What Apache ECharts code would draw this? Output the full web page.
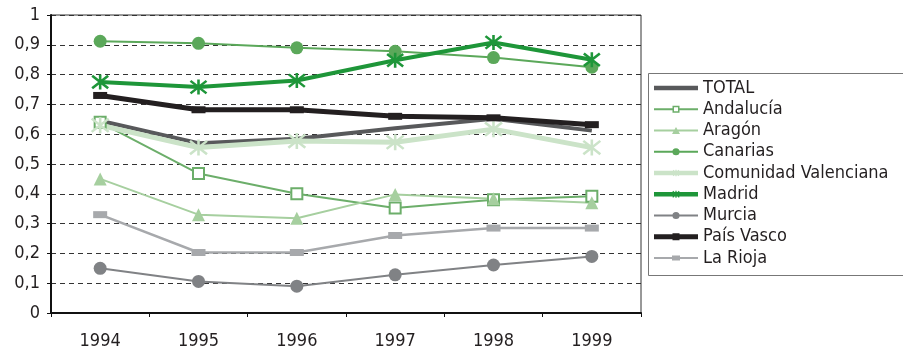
<!DOCTYPE html>
<html>
<head>
<meta charset="utf-8">
<script src="https://cdn.jsdelivr.net/npm/echarts@6/dist/echarts.min.js"></script>
<style>
  html, body { margin: 0; padding: 0; background: #fff; }
  #chart { width: 903px; height: 351px; }
</style>
</head>
<body>
<div id="chart"></div>
<script>
// Years on the horizontal axis
const years = ['1994', '1995', '1996', '1997', '1998', '1999'];

// Ratio per region and year
const total       = [0.645, 0.570, 0.585, 0.620, 0.652, 0.612];
const andalucia   = [0.640, 0.468, 0.400, 0.352, 0.380, 0.392];
const aragon      = [0.450, 0.330, 0.318, 0.398, 0.383, 0.370];
const canarias    = [0.912, 0.905, 0.890, 0.878, 0.857, 0.825];
const valenciana  = [0.630, 0.555, 0.577, 0.573, 0.617, 0.555];
const madrid      = [0.775, 0.758, 0.780, 0.848, 0.908, 0.850];
const murcia      = [0.150, 0.106, 0.090, 0.128, 0.161, 0.190];
const paisVasco   = [0.730, 0.682, 0.682, 0.660, 0.655, 0.632];
const laRioja     = [0.330, 0.203, 0.203, 0.260, 0.285, 0.285];

const seriesNames = ['TOTAL', 'Andalucía', 'Aragón', 'Canarias', 'Comunidad Valenciana',
                     'Madrid', 'Murcia', 'País Vasco', 'La Rioja'];

// Excel-style asterisk marker: an X crossed by a vertical bar
const ASTERISK = 'path://M0,0L10,10M10,0L0,10M5,-1L5,11';

const FONT = "'Liberation Sans Narrow', 'DejaVu Sans Condensed', 'Liberation Sans', sans-serif";
const TEXT = '#231f20';

// ---- small path helpers for the legend keys (44 px wide, centred on y = 0) ----
const W = 44, C = 22;
const rect = (x, y, w, h) => `M${x},${y}h${w}v${h}h${-w}Z`;
const rectRev = (x, y, w, h) => `M${x},${y}v${h}h${w}v${-h}Z`;
const bar = t => rect(0, -t / 2, W, t);
const circle = r => `M${C - r},0A${r},${r},0,1,1,${C + r},0A${r},${r},0,1,1,${C - r},0Z`;
const triangle = (w, h) => `M${C - w / 2},${h / 2}L${C},${-h / 2}L${C + w / 2},${h / 2}Z`;
const star = s => rect(C - 0.6, -s, 1.2, 2 * s) +
  `M${C + s},${-s + 0.8}L${C - s + 0.8},${s}L${C - s},${s - 0.8}L${C + s - 0.8},${-s}Z` +
  `M${C - s},${-s + 0.8}L${C - s + 0.8},${-s}L${C + s},${s - 0.8}L${C + s - 0.8},${s}Z`;
const hollowSquare = s => rect(0, -1, C - s / 2, 2) + rect(C + s / 2, -1, C - s / 2, 2) +
  rect(C - s / 2, -s / 2, s, s) + rectRev(C - s / 2 + 1.5, -s / 2 + 1.5, s - 3, s - 3);

const legendKeys = {
  'TOTAL':                bar(4.5),
  'Andalucía':            hollowSquare(7),
  'Aragón':               bar(2) + triangle(8, 7),
  'Canarias':             bar(2) + circle(3.6),
  'Comunidad Valenciana': bar(4.5) + star(3.2),
  'Madrid':               bar(4.5) + star(3.6),
  'Murcia':               bar(2) + circle(3.6),
  'País Vasco':           bar(5) + rect(C - 3.5, -3.5, 7, 7),
  'La Rioja':             bar(2) + rect(C - 4, -2.5, 8, 5)
};

function line(name, data, color, width, symbol, size, extra) {
  return Object.assign({
    name, type: 'line', data,
    color,
    lineStyle: { color, width },
    symbol, symbolSize: size,
    showSymbol: symbol !== 'none',
    itemStyle: { color, borderWidth: 0 },
    emphasis: { disabled: true },
    animation: false
  }, extra || {});
}

const series = [
  line('TOTAL', total, '#58595b', 4, 'none', 0),
  line('Andalucía', andalucia, '#6cae6a', 2, 'rect', 11,
       { itemStyle: { color: '#fff', borderColor: '#6cae6a', borderWidth: 2 } }),
  line('Aragón', aragon, '#a6cf9f', 2, 'triangle', 13),
  line('Canarias', canarias, '#5ba85a', 2, 'circle', 13),
  line('Comunidad Valenciana', valenciana, '#cbe3c8', 5, ASTERISK, [17, 16],
       { itemStyle: { color: '#cbe3c8', borderColor: '#cbe3c8', borderWidth: 2.5 } }),
  line('Madrid', madrid, '#1e9639', 4, ASTERISK, [16, 15],
       { itemStyle: { color: '#1e9639', borderColor: '#1e9639', borderWidth: 2.5 } }),
  line('Murcia', murcia, '#808285', 2, 'circle', 13),
  line('País Vasco', paisVasco, '#231f20', 5, 'rect', [14, 7]),
  line('La Rioja', laRioja, '#a7a9ac', 2.5, 'rect', [14, 7])
];

const chart = echarts.init(document.getElementById('chart'), null, { renderer: 'canvas' });

chart.setOption({
  backgroundColor: '#fff',
  textStyle: { fontFamily: FONT },
  grid: { left: 51, right: 262, top: 15, bottom: 38, show: true,
          borderColor: '#333', borderWidth: 1, backgroundColor: 'transparent' },
  xAxis: {
    type: 'category', data: years, boundaryGap: true,
    axisLine: { lineStyle: { color: '#111', width: 2 } },
    axisTick: { show: true, inside: false, length: 4, lineStyle: { color: '#111', width: 1 } },
    axisLabel: { color: TEXT, fontSize: 18, fontFamily: FONT, margin: 19 },
    splitLine: { show: false }
  },
  yAxis: {
    type: 'value', min: 0, max: 1, interval: 0.1,
    axisLine: { show: true, lineStyle: { color: '#111', width: 2 } },
    axisTick: { show: true, length: 4, lineStyle: { color: '#111', width: 1 } },
    axisLabel: { color: TEXT, fontSize: 18, fontFamily: FONT, margin: 11,
                 formatter: v => String(Math.round(v * 10) / 10).replace('.', ',') },
    splitLine: { show: true, lineStyle: { color: '#333', width: 1, type: [5, 4] } }
  },
  legend: {
    orient: 'vertical', left: 654, top: 79,
    itemWidth: 44, itemHeight: 14, itemGap: 3.25,
    padding: 0,
    symbolKeepAspect: true,
    data: series.map(s => ({
      name: s.name,
      icon: 'path://' + legendKeys[s.name],
      itemStyle: { color: s.color, borderWidth: 0 }
    })),
    textStyle: { color: TEXT, fontSize: 18, lineHeight: 18, fontFamily: FONT },
    selectedMode: false
  },
  graphic: [{
    type: 'rect', left: 646, top: 71,
    shape: { width: 256, height: 202 },
    style: { fill: 'none', stroke: '#777', lineWidth: 1 },
    z: 0
  }],
  series
});
</script>
</body>
</html>
